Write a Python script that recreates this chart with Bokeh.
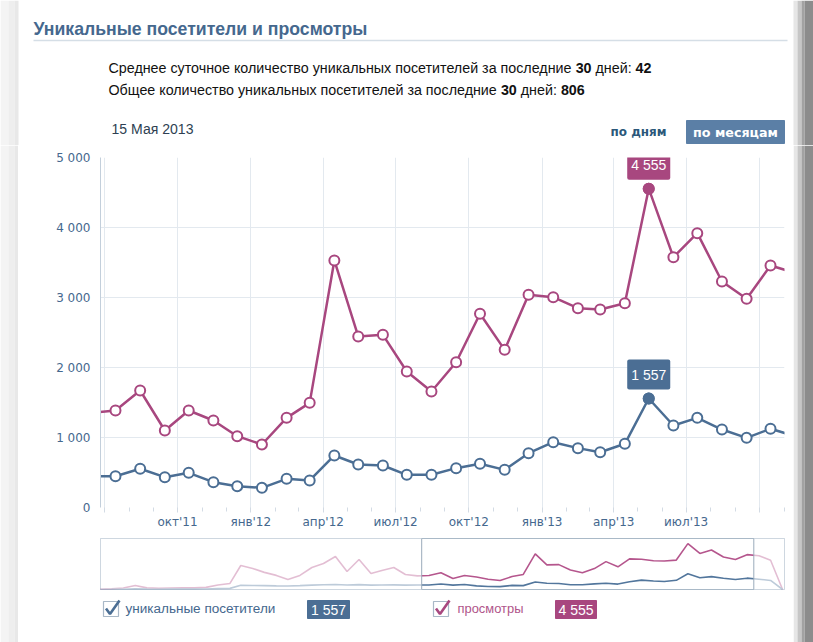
import glob
import datetime as dt
from bokeh.plotting import figure
from bokeh.layouts import row, column
from bokeh.models import Range1d, FixedTicker, CustomJSTickFormatter, Label, BoxAnnotation
from bokeh.embed import file_html
from bokeh.resources import INLINE

# ---------------- data ----------------
first_year, first_month = 2009, 3          # first monthly point (15th of month)
views = [20, 60, 150, 400, 160, 120, 150, 170, 160, 210,
         450, 600, 2380, 2080, 1700, 1400, 1000, 1400, 2180, 2580, 3280, 1790,
         2980, 1590, 1890, 2180, 1490, 1350, 1386, 1671, 1100, 1386, 1243, 1019,
         900, 1281, 1495, 3529, 2443, 2467, 1943, 1657, 2076, 2767, 2252, 3038,
         3005, 2848, 2829, 2919, 4555, 3576, 3919, 3229, 2981, 3457, 3350, 2900,
         0]
uniques = [5, 15, 30, 60, 40, 30, 35, 40, 40, 50,
           90, 110, 420, 400, 380, 360, 350, 380, 430, 470, 500, 450,
           480, 430, 440, 460, 430, 445, 447, 553, 433, 495, 362, 305,
           281, 410, 386, 743, 614, 600, 467, 467, 562, 624, 538, 776,
           933, 848, 790, 910, 1557, 1171, 1281, 1114, 995, 1124, 1020, 900,
           0]
selected_date = dt.datetime(2013, 5, 15)
x_tick_dates = [dt.datetime(2011, 7, 1), dt.datetime(2011, 10, 1), dt.datetime(2012, 1, 1),
                dt.datetime(2012, 4, 1), dt.datetime(2012, 7, 1), dt.datetime(2012, 10, 1),
                dt.datetime(2013, 1, 1), dt.datetime(2013, 4, 1), dt.datetime(2013, 7, 1),
                dt.datetime(2013, 10, 1)]
x_tick_labels = ["", "окт'11", "янв'12", "апр'12", "июл'12", "окт'12",
                 "янв'13", "апр'13", "июл'13", ""]
y_ticks = [0, 1000, 2000, 3000, 4000, 5000]
y_tick_labels = ["0", "1 000", "2 000", "3 000", "4 000", "5 000"]
main_start, main_end = dt.datetime(2011, 6, 26, 4), dt.datetime(2013, 11, 1, 14)
nav_start, nav_end = dt.datetime(2009, 3, 17), dt.datetime(2014, 1, 20)

title_text = "Уникальные посетители и просмотры"
stat_line1 = [("Среднее суточное количество уникальных посетителей за последние ", False),
              ("30", True), (" дней: ", False), ("42", True)]
stat_line2 = [("Общее количество уникальных посетителей за последние ", False),
              ("30", True), (" дней: ", False), ("806", True)]
date_text = "15 Мая 2013"
legend_names = ["уникальные посетители", "просмотры"]

# ---------------- helpers ----------------
EPOCH = dt.datetime(1970, 1, 1)
def ms(d):
    return (d - EPOCH).total_seconds() * 1000.0

dates = []
for i in range(len(views)):
    k = first_month - 1 + i
    dates.append(dt.datetime(first_year + k // 12, k % 12 + 1, 15))
xs = [ms(d) for d in dates]
sel = dates.index(selected_date)

def fmt(v):
    return f"{v:,}".replace(",", " ")

_font_cache = {}
def font_path(fname):
    if fname not in _font_cache:
        c = glob.glob(f"/usr/share/fonts/**/{fname}", recursive=True) + \
            glob.glob(f"/usr/local/share/fonts/**/{fname}", recursive=True)
        _font_cache[fname] = c[0] if c else None
    return _font_cache[fname]

def text_w(s, fname, size):
    path = font_path(fname)
    if path:
        try:
            from PIL import ImageFont
            f = ImageFont.truetype(path, 100)
            return f.getlength(s) * size / 100.0
        except Exception:
            pass
    return len(s) * size * 0.56

LIB_R, LIB_B = "LiberationSans-Regular.ttf", "LiberationSans-Bold.ttf"
DJ_R, DJ_B = "DejaVuSans.ttf", "DejaVuSans-Bold.ttf"

def fit(s, fname, target):
    return target / text_w(s, fname, 1.0)

def seg_width(segs, size):
    return sum(text_w(t, LIB_B if b else LIB_R, size) for t, b in segs)

PINK = "#a8477f"
BLUE = "#4b6e94"
AXIS_TXT = "#45688e"
GRID = "#e3e9ef"
LEFT_SHADE = [(0, "#f4f4f4"), (8, "#eeeeee"), (14, "#e8e8e8")]
RIGHT_SHADE = [(0, "#e6e6e6"), (4, "#c6c6c6"), (8, "#a2a2a2"), (11, "#8c8c8c")]

# page geometry (image pixels): column spans x 18..793, plot frames span x 100..784
COL_X0, COL_W = 18, 775
FR_L, FR_R = 100, 784
BL, BR = FR_L - COL_X0, COL_X0 + COL_W - FR_R
RS_W = 813 - COL_X0 - COL_W

def bare(w, h, xr, yr, bl=0, br=0, bt=0, bb=0):
    p = figure(width=w, height=h, x_range=xr, y_range=yr, toolbar_location=None,
               output_backend="svg", x_axis_location=None, y_axis_location=None,
               min_border_left=bl, min_border_right=br, min_border_top=bt, min_border_bottom=bb)
    p.grid.visible = False
    p.outline_line_color = None
    p.background_fill_color = "white"
    p.border_fill_color = "white"
    return p

def put_text(p, x, y, s, font, size, color, bold=False, align="left"):
    p.add_layout(Label(x=x, y=y, text=s, text_font=font, text_font_size=f"{size:.2f}px",
                       text_font_style="bold" if bold else "normal", text_color=color,
                       text_baseline="middle", text_align=align))

def put_segments(p, segs, x0, y, size, color):
    x = x0
    for t, b in segs:
        fname = LIB_B if b else LIB_R
        lead = len(t) - len(t.lstrip(" "))
        xs_ = x + (text_w(" " * lead, fname, size) if lead else 0)
        core = t.strip(" ")
        if core:
            put_text(p, xs_, y, core, "Liberation Sans", size, color, bold=b)
        x += text_w(t, fname, size)

def shade(p, x0, shades, w, y0, y1):
    lefts = [x0 + s[0] for s in shades]
    rights = lefts[1:] + [x0 + w]
    p.quad(left=lefts, right=rights, bottom=[y0] * len(shades), top=[y1] * len(shades),
           fill_color=[s[1] for s in shades], line_color=None)

# ---------------- header (full width, image y 0..145) ----------------
HA = 145
pA = bare(813, HA, Range1d(0, 813), Range1d(HA, 0))
shade(pA, 0, LEFT_SHADE, COL_X0, 0, HA)
shade(pA, COL_X0 + COL_W, RIGHT_SHADE, RS_W, 0, HA)
put_text(pA, 33, 28, title_text, "Liberation Sans", fit(title_text, LIB_B, 334), AXIS_TXT, bold=True)
pA.add_layout(BoxAnnotation(left=33, right=787, top=39.2, bottom=40.8, fill_color="#d5dee6",
                            fill_alpha=1.0, line_color=None))
s_size = 543 / seg_width(stat_line1, 1.0)
put_segments(pA, stat_line1, 108, 67, s_size, "#111111")
put_segments(pA, stat_line2, 108, 89, s_size, "#111111")
put_text(pA, 111, 128, date_text, "Liberation Sans", fit(date_text, LIB_R, 82), "#2e3f52")
put_text(pA, 610, 131, "по дням", "DejaVu Sans", fit("по дням", DJ_B, 56), "#2b587a", bold=True)
pA.quad(left=[686], right=[784], top=[120], bottom=[143], fill_color="#5b7fa6", line_color="#5b7fa6")
put_text(pA, 735, 131.5, "по месяцам", "DejaVu Sans", fit("по месяцам", DJ_B, 85), "white",
         bold=True, align="center")

# ---------------- main chart (image y 145..535) ----------------
pB = figure(width=COL_W, height=390, x_axis_type="datetime",
            x_range=Range1d(ms(main_start), ms(main_end)), y_range=Range1d(0, 5000),
            toolbar_location=None, output_backend="svg",
            min_border_left=BL, min_border_right=BR, min_border_top=12, min_border_bottom=28)
pB.outline_line_color = None
pB.background_fill_color = "white"
pB.border_fill_color = "white"

tick_ms = [ms(d) for d in x_tick_dates]
minor_ms = []
for yy in (2011, 2012, 2013):
    for mm in range(1, 13):
        d = dt.datetime(yy, mm, 1)
        if dt.datetime(2011, 7, 1) <= d <= dt.datetime(2013, 11, 1):
            minor_ms.append(ms(d))
xt = FixedTicker(ticks=tick_ms, minor_ticks=minor_ms)
pB.xaxis.ticker = xt
pB.xgrid.ticker = xt
pB.xaxis.formatter = CustomJSTickFormatter(args=dict(tvals=tick_ms, tlabels=x_tick_labels), code="""
    for (let i = 0; i < tvals.length; i++) {
        if (Math.abs(tvals[i] - tick) < 86400000) { return tlabels[i]; }
    }
    return "";
""")
yt = FixedTicker(ticks=y_ticks)
pB.yaxis.ticker = yt
pB.ygrid.ticker = yt
pB.yaxis.formatter = CustomJSTickFormatter(args=dict(yvals=y_ticks, ylabels=y_tick_labels), code="""
    for (let i = 0; i < yvals.length; i++) {
        if (Math.abs(yvals[i] - tick) < 1) { return ylabels[i]; }
    }
    return "";
""")
pB.grid.grid_line_color = GRID
pB.grid.grid_line_width = 1
pB.xaxis.axis_line_color = None
pB.xaxis.major_tick_line_color = "#d3dbe4"
pB.xaxis.minor_tick_line_color = "#d3dbe4"
pB.xaxis.major_tick_in = 0
pB.xaxis.minor_tick_in = 0
pB.xaxis.major_tick_out = 5
pB.xaxis.minor_tick_out = 4
pB.xaxis.major_label_standoff = 2
pB.yaxis.axis_line_color = "#c3cfdb"
pB.yaxis.major_tick_line_color = None
pB.yaxis.minor_tick_line_color = None
pB.yaxis.major_tick_out = 0
pB.yaxis.major_tick_in = 0
pB.yaxis.minor_tick_out = 0
pB.yaxis.major_label_standoff = 10
pB.axis.major_label_text_font = "DejaVu Sans"
pB.axis.major_label_text_font_size = "12px"
pB.axis.major_label_text_color = AXIS_TXT

pB.line(xs, uniques, line_color=BLUE, line_width=2.5)
pB.line(xs, views, line_color=PINK, line_width=2.5)
pB.scatter(xs, uniques, size=10, fill_color="white", line_color=BLUE, line_width=2)
pB.scatter(xs, views, size=10, fill_color="white", line_color=PINK, line_width=2)
pB.scatter([xs[sel]], [uniques[sel]], size=10, fill_color=BLUE, line_color=BLUE, line_width=2)
pB.scatter([xs[sel]], [views[sel]], size=10, fill_color=PINK, line_color=PINK, line_width=2)

for val, col in ((views[sel], PINK), (uniques[sel], BLUE)):
    pB.add_layout(Label(x=xs[sel], y=val, text=fmt(val), text_align="center",
                        text_baseline="bottom", y_offset=9, text_color="white",
                        text_font="Liberation Sans", text_font_size="14px",
                        background_fill_color=col, padding=(4, 7), border_radius=2))

# ---------------- navigator (image y 535..592) ----------------
NAV_TOP = 5060
pC = figure(width=COL_W, height=57, x_range=Range1d(ms(nav_start), ms(nav_end)),
            y_range=Range1d(0, NAV_TOP), toolbar_location=None, output_backend="svg",
            x_axis_location=None, y_axis_location=None,
            min_border_left=BL, min_border_right=BR, min_border_top=3, min_border_bottom=3)
pC.grid.visible = False
pC.outline_line_color = "#b9c6d2"
pC.background_fill_color = "white"
pC.border_fill_color = "white"
pC.line(xs, views, line_color="#b5568d", line_width=1.6)
pC.line(xs, uniques, line_color="#52769c", line_width=1.6)
pC.quad(left=[ms(nav_start) - 1e10, ms(main_end)], right=[ms(main_start), ms(nav_end) + 1e10],
        bottom=[-100, -100], top=[NAV_TOP + 100, NAV_TOP + 100],
        fill_color="white", fill_alpha=0.62, line_color=None)
pC.quad(left=[ms(main_start)], right=[ms(main_end)], bottom=[0], top=[NAV_TOP],
        fill_color=None, line_color="#9aabbb", line_width=1)

# ---------------- legend (image y 592..642) ----------------
pD = bare(COL_W, 50, Range1d(FR_L, FR_R), Range1d(642, 592), bl=BL, br=BR)
for (bx, col, name, tx, tcol, badge_l, badge_r, val, tw) in (
        (103, BLUE, legend_names[0], 125, "#45688e", 307, 349, uniques[sel], 150),
        (433, PINK, legend_names[1], 457, "#b0558a", 555, 596, views[sel], 66)):
    pD.quad(left=[bx], right=[bx + 15], top=[601], bottom=[616], fill_color="white",
            line_color="#a9b8c7", line_width=1.2)
    pD.line([bx + 2.5, bx + 6.5, bx + 16], [608, 613.5, 600], line_color=col, line_width=2.6)
    put_text(pD, tx, 608, name, "Liberation Sans", fit(name, LIB_R, tw), tcol)
    pD.quad(left=[badge_l], right=[badge_r], top=[600], bottom=[618], fill_color=col, line_color=col)
    put_text(pD, (badge_l + badge_r) / 2, 609, fmt(val), "Liberation Sans", 14, "white", align="center")

# ---------------- side shadows ----------------
HB = 390 + 57 + 50
pL = bare(COL_X0, HB, Range1d(0, COL_X0), Range1d(0, HB))
shade(pL, 0, LEFT_SHADE, COL_X0, 0, HB)
pR = bare(RS_W, HB, Range1d(0, RS_W), Range1d(0, HB))
shade(pR, 0, RIGHT_SHADE, RS_W, 0, HB)

layout = column(row(pA, spacing=0),
                row(pL, column(pB, pC, pD, spacing=0), pR, spacing=0),
                spacing=0)
open("out.html", "w").write(file_html(layout, INLINE))
